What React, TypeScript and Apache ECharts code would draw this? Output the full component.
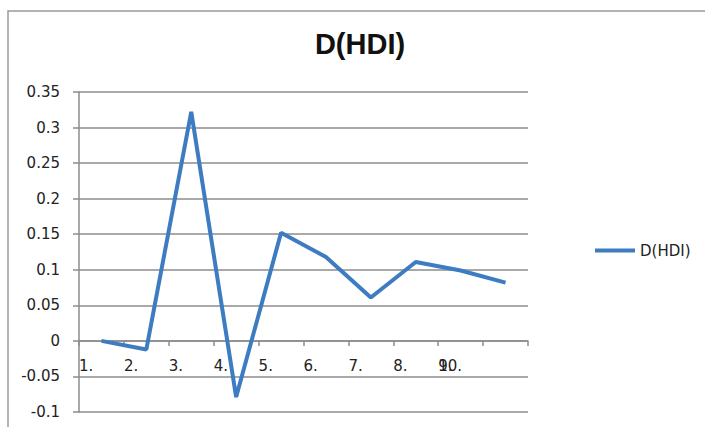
import React, { useEffect, useRef } from "react";
import * as echarts from "echarts";

const categories = ["1.", "2.", "3.", "4.", "5.", "6.", "7.", "8.", "9.", "10."];
const values = [0.0, -0.012, 0.322, -0.079, 0.152, 0.118, 0.061, 0.111, 0.099, 0.082];
const firstLabels = ["1.", "2.", "3.", "4.", "5.", "6.", "7.", "8.", "9."];
const overlapLabel = "10.";
const seriesName = "D(HDI)";
const titleText = "D(HDI)";
const yMin = -0.1;
const yMax = 0.35;
const yStep = 0.05;

const FONT = "DejaVu Sans";
const TEXT = "#222";
const GRID = "#8c8c8c";
const BLUE = "#3d7cc0";

export default function App() {
  const ref = useRef<HTMLDivElement>(null);
  useEffect(() => {
    if (!ref.current) return;
    const chart = echarts.init(ref.current, null, { renderer: "svg" });
    const plotHeight = 320;
    const gridBox = { left: 79, right: 177, top: 92, bottom: 15, containLabel: false };
    const zeroOffset = -(plotHeight * (0 - yMin)) / (yMax - yMin);
    const hiddenY = (gi: number) => ({
      type: "value",
      gridIndex: gi,
      min: yMin,
      max: yMax,
      interval: yStep,
      show: false,
    });
    const labelAxis = (gi: number, labels: string[], offsetIndex: number) => ({
      type: "value",
      gridIndex: gi,
      min: 0,
      max: categories.length,
      interval: 1,
      position: "bottom",
      offset: zeroOffset,
      axisLine: { show: false, onZero: false },
      axisTick: { show: false },
      splitLine: { show: false },
      axisLabel: {
        show: true,
        margin: 18,
        align: "left",
        showMinLabel: true,
        showMaxLabel: true,
        fontFamily: FONT,
        fontSize: 15,
        color: TEXT,
        formatter: (v: number) => {
          const i = Math.round(v) - offsetIndex;
          return i >= 0 && i < labels.length ? labels[i] : "";
        },
      },
    });
    chart.setOption({
      animation: false,
      backgroundColor: "#fff",
      title: {
        text: titleText,
        left: 360,
        textAlign: "center",
        top: 29,
        padding: 0,
        textStyle: {
          fontFamily: "Liberation Sans",
          fontWeight: "bold",
          fontSize: 29,
          color: "#111",
        },
      },
      legend: {
        data: [seriesName],
        left: 595,
        top: 243,
        padding: 0,
        icon: "rect",
        itemWidth: 40,
        itemHeight: 4,
        textStyle: { fontFamily: FONT, fontSize: 15, color: TEXT },
      },
      graphic: [
        {
          type: "rect",
          shape: { x: 8, y: 11, width: 800, height: 600 },
          style: { fill: "none", stroke: "#9a9a9a", lineWidth: 1.5 },
          silent: true,
        },
      ],
      grid: [gridBox, gridBox, gridBox],
      xAxis: [
        {
          type: "category",
          gridIndex: 0,
          data: categories,
          boundaryGap: true,
          axisLine: { show: true, onZero: true, lineStyle: { color: GRID, width: 1.5 } },
          axisTick: { show: true, interval: 0, length: 5, lineStyle: { color: GRID, width: 1.5 } },
          axisLabel: { show: false },
          splitLine: { show: false },
        },
        labelAxis(1, firstLabels, 0),
        labelAxis(2, [overlapLabel], 8),
      ],
      yAxis: [
        {
          type: "value",
          gridIndex: 0,
          min: yMin,
          max: yMax,
          interval: yStep,
          axisLine: { show: true, lineStyle: { color: GRID, width: 1.5 } },
          axisTick: { show: true, length: 6, lineStyle: { color: GRID, width: 1.5 } },
          axisLabel: {
            margin: 19,
            fontFamily: FONT,
            fontSize: 15,
            color: TEXT,
            formatter: (v: number) => String(Number(v.toFixed(2))),
          },
          splitLine: { show: true, lineStyle: { color: GRID, width: 1.5 } },
        },
        hiddenY(1),
        hiddenY(2),
      ],
      series: [
        {
          name: seriesName,
          type: "line",
          xAxisIndex: 0,
          yAxisIndex: 0,
          data: values,
          symbol: "none",
          lineStyle: { color: BLUE, width: 4 },
          itemStyle: { color: BLUE },
        },
      ],
    });
    return () => chart.dispose();
  }, []);
  return (
    <div
      ref={ref}
      style={{ position: "fixed", left: 0, top: 0, width: 705, height: 427 }}
    />
  );
}
